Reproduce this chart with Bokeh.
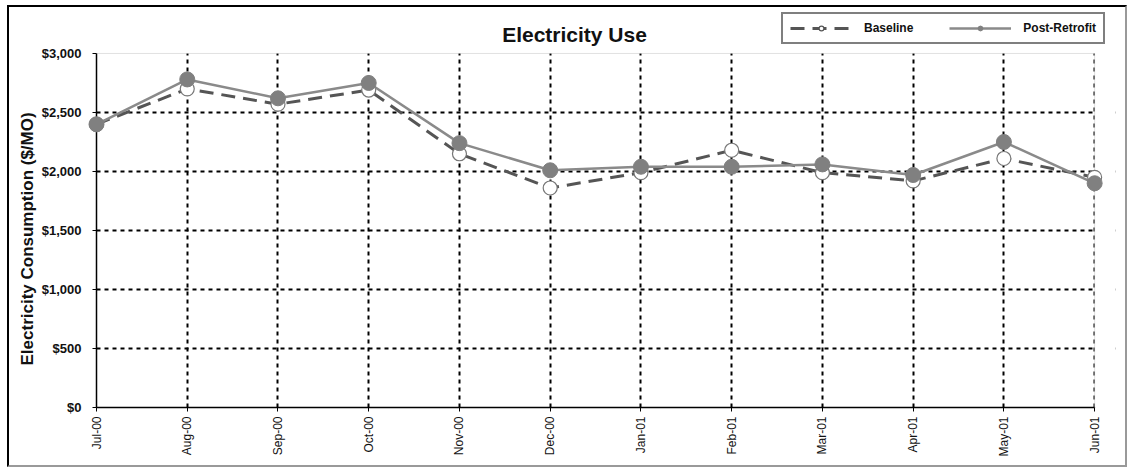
from bokeh.plotting import figure
from bokeh.models import (FixedTicker, NumeralTickFormatter, Legend, LegendItem, Range1d,
                          Label, BoxAnnotation, Title)
from bokeh.embed import file_html
from bokeh.resources import INLINE
import math

months = ["Jul-00", "Aug-00", "Sep-00", "Oct-00", "Nov-00", "Dec-00",
          "Jan-01", "Feb-01", "Mar-01", "Apr-01", "May-01", "Jun-01"]
baseline = [2400, 2700, 2570, 2690, 2150, 1860, 1990, 2180, 1990, 1920, 2110, 1950]
post_retrofit = [2400, 2780, 2620, 2750, 2240, 2010, 2040, 2040, 2060, 1970, 2250, 1900]
y_ticks = [0, 500, 1000, 1500, 2000, 2500, 3000]
y_max = 3000

xs = list(range(len(months)))
x_last = len(months) - 1

# frame extends above $3,000 and right of Jun-01 so the title and legend can sit inside it
p = figure(width=1120, height=462, output_backend="svg", toolbar_location=None,
           x_range=Range1d(0, 11.23), y_range=Range1d(0, 3364),
           min_border_left=87, min_border_right=14, min_border_top=3, min_border_bottom=62)
p.styles = {"border-style": "solid", "border-width": "2px",
            "border-color": "black #999999 #999999 black",
            "margin-left": "7px", "margin-top": "5px"}
p.outline_line_color = None

# grids
p.xgrid.ticker = FixedTicker(ticks=xs)
p.xgrid.grid_line_color = "black"
p.xgrid.grid_line_dash = "4 4"
p.xgrid.grid_line_width = 2
p.ygrid.ticker = FixedTicker(ticks=y_ticks[1:-1])
p.ygrid.grid_line_color = "black"
p.ygrid.grid_line_dash = "4 4"
p.ygrid.grid_line_width = 2

# blank the area outside the plot box, then outline the plot box
p.add_layout(BoxAnnotation(bottom=y_max, fill_color="white", fill_alpha=1.0,
                           line_color=None, level="underlay"))
p.add_layout(BoxAnnotation(left=x_last, fill_color="white", fill_alpha=1.0,
                           line_color=None, level="underlay"))
p.add_layout(BoxAnnotation(left=0, right=x_last, bottom=0, top=y_max, fill_alpha=0.0,
                           line_color="#999999", line_width=1, level="underlay"))

# axes
p.xaxis.ticker = FixedTicker(ticks=xs)
p.xaxis.bounds = (0, x_last)
p.xaxis.major_label_overrides = {i: m for i, m in enumerate(months)}
p.xaxis.major_label_orientation = math.pi / 2
p.xaxis.major_label_text_font = "Liberation Sans"
p.xaxis.major_label_text_font_size = "12px"
p.xaxis.major_label_text_color = "#111111"
p.xaxis.major_tick_in = 0
p.xaxis.major_tick_out = 4
p.xaxis.minor_tick_line_color = None
p.xaxis.axis_line_color = "black"
p.xaxis.axis_line_width = 1.5

p.yaxis.ticker = FixedTicker(ticks=y_ticks)
p.yaxis.bounds = (0, y_max)
p.yaxis.formatter = NumeralTickFormatter(format="$0,0")
p.yaxis.major_label_text_font = "Liberation Sans"
p.yaxis.major_label_text_font_size = "13px"
p.yaxis.major_label_text_font_style = "bold"
p.yaxis.major_label_text_color = "#111111"
p.yaxis.major_label_standoff = 11
p.yaxis.major_tick_in = 0
p.yaxis.major_tick_out = 4
p.yaxis.minor_tick_line_color = None
p.yaxis.axis_line_color = "black"
p.yaxis.axis_line_width = 1.5

ylabel = Title(text="Electricity Consumption ($/MO)", align="left", offset=42,
               text_font="Liberation Sans", text_font_size="17px", text_font_style="bold",
               text_color="#111111", standoff=4)
p.add_layout(ylabel, "left")

# series
bl = p.line(xs, baseline, line_color="#555555", line_width=3, line_dash="14 8", level="overlay")
bm = p.scatter(xs, baseline, size=14, fill_color="white", line_color="#777777",
               line_width=1.2, level="overlay")
pl = p.line(xs, post_retrofit, line_color="#8a8a8a", line_width=2.5, level="overlay")
pm = p.scatter(xs, post_retrofit, size=15, fill_color="#808080", line_color="#808080",
               level="overlay")

# small legend markers (hidden in the plot, shown in the legend)
blm = p.scatter(xs, baseline, size=6, fill_color="white", line_color="#555555",
                line_width=1.2, visible=False)
plm = p.scatter(xs, post_retrofit, size=5, fill_color="#808080", line_color="#808080",
                visible=False)

legend = Legend(items=[LegendItem(label="Baseline", renderers=[bl, blm]),
                       LegendItem(label="Post-Retrofit", renderers=[pl, plm])],
                orientation="horizontal", location=(685, 363),
                label_text_font="Liberation Sans", label_text_font_size="12px",
                label_text_font_style="bold", label_text_color="#111111",
                glyph_width=62, glyph_height=12,
                border_line_color="black", border_line_width=2,
                padding=7, spacing=36, margin=0, label_standoff=12,
                inactive_fill_alpha=0.0)
p.add_layout(legend, "center")

title = Label(x=478, y=373, x_units="screen", y_units="screen", text="Electricity Use",
              text_align="center", text_baseline="alphabetic",
              text_font="Liberation Sans", text_font_size="21px", text_font_style="bold",
              text_color="#111111")
p.add_layout(title)

open("out.html", "w").write(file_html(p, INLINE))
